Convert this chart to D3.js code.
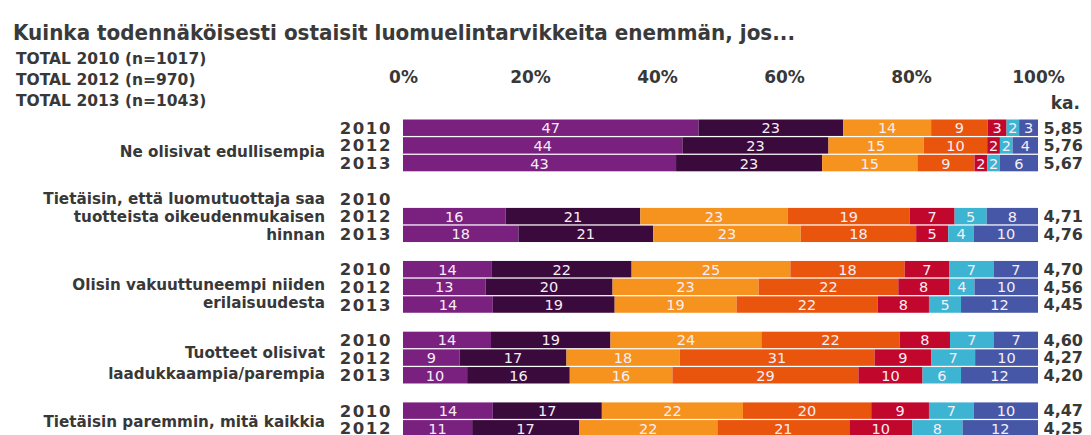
<!DOCTYPE html>
<html><head><meta charset="utf-8">
<script src="https://cdn.jsdelivr.net/npm/d3@7"></script>
<style>html,body{margin:0;padding:0;background:#fff;}svg{display:block;}</style>
</head><body>
<svg id="chart" width="1091" height="435"></svg>
<script>
// ---- data ----
const title = "Kuinka todennäköisesti ostaisit luomuelintarvikkeita enemmän, jos...";
const subtitles = ["TOTAL 2010 (n=1017)", "TOTAL 2012 (n=970)", "TOTAL 2013 (n=1043)"];
const tickValues = [0, 0.2, 0.4, 0.6, 0.8, 1];
const tickLabels = ["0%", "20%", "40%", "60%", "80%", "100%"];
const meanHeader = "ka.";
const years = ["2010", "2012", "2013"];
const categories = [
  ["Ne olisivat edullisempia"],
  ["Tietäisin, että luomutuottaja saa", "tuotteista oikeudenmukaisen", "hinnan"],
  ["Olisin vakuuttuneempi niiden", "erilaisuudesta"],
  ["Tuotteet olisivat", "laadukkaampia/parempia"],
  ["Tietäisin paremmin, mitä kaikkia"]
];
const categoryYears = [
  ["2010", "2012", "2013"],
  ["2010", "2012", "2013"],
  ["2010", "2012", "2013"],
  ["2010", "2012", "2013"],
  ["2010", "2012"]
];
// values per category per year (null = no data), 7 answer classes
const values1 = [[47,23,14,9,3,2,3],[44,23,15,10,2,2,4],[43,23,15,9,2,2,6]];
const values2 = [null,[16,21,23,19,7,5,8],[18,21,23,18,5,4,10]];
const values3 = [[14,22,25,18,7,7,7],[13,20,23,22,8,4,10],[14,19,19,22,8,5,12]];
const values4 = [[14,19,24,22,8,7,7],[9,17,18,31,9,7,10],[10,16,16,29,10,6,12]];
const values5 = [[14,17,22,20,9,7,10],[11,17,22,21,10,8,12]];
const means1 = ["5,85","5,76","5,67"];
const means2 = [null,"4,71","4,76"];
const means3 = ["4,70","4,56","4,45"];
const means4 = ["4,60","4,27","4,20"];
const means5 = ["4,47","4,25"];
const seriesKeys = ["s1","s2","s3","s4","s5","s6","s7"];
const seriesColors = ["#7a2180","#3b0a3d","#f6921e","#e9550d","#c1072c","#3cb4d2","#4657a8"];

const allValues = [values1, values2, values3, values4, values5];
const allMeans = [means1, means2, means3, means4, means5];

// ---- layout ----
const svg = d3.select("#chart");
const textColor = "#383838";
const x = d3.scaleLinear().domain([0, 1]).range([403, 1038]);

// row keys: 3 year rows + 1 gap row per category
const rowKeys = [];
categories.forEach((c, g) => { years.forEach(y => rowKeys.push(g + "|" + y)); rowKeys.push(g + "|gap"); });
const y = d3.scaleBand().domain(rowKeys).range([119.5, 119.5 + 20 * 17.62]).paddingInner(0.07).paddingOuter(0);

// build rows
const rows = [];
categories.forEach((c, g) => {
  categoryYears[g].forEach((yr, i) => {
    const vals = allValues[g][i];
    const row = { key: g + "|" + yr, year: yr, mean: allMeans[g][i], has: !!vals };
    seriesKeys.forEach((k, j) => row[k] = vals ? vals[j] : 0);
    rows.push(row);
  });
});
const dataRows = rows.filter(r => r.has);
const stacked = d3.stack().keys(seriesKeys).offset(d3.stackOffsetExpand)(dataRows);

// title
svg.append("text").attr("x", 13).attr("y", 40)
  .attr("font-family", "DejaVu Sans").attr("font-weight", "bold").attr("font-size", 21)
  .attr("fill", "#3a3a3a").attr("textLength", 782).attr("lengthAdjust", "spacingAndGlyphs")
  .text(title);

// subtitles
const subY = [64, 85, 106];
svg.selectAll("text.sub").data(subtitles).join("text").attr("class", "sub")
  .attr("x", 16).attr("y", (d, i) => subY[i])
  .attr("font-family", "DejaVu Sans").attr("font-weight", "bold").attr("font-size", 15.5)
  .attr("fill", textColor).text(d => d);

// axis
const axis = svg.append("g").attr("transform", "translate(0,83)")
  .call(d3.axisTop(x).tickValues(tickValues).tickFormat((d, i) => tickLabels[i]).tickSize(0).tickPadding(0));
axis.select(".domain").remove();
axis.selectAll("text").attr("font-family", "DejaVu Sans").attr("font-weight", "bold")
  .attr("font-size", 17).attr("fill", textColor).attr("dy", null);

svg.append("text").attr("x", 1080).attr("y", 109).attr("text-anchor", "end")
  .attr("font-family", "DejaVu Sans").attr("font-weight", "bold").attr("font-size", 17)
  .attr("fill", textColor).text(meanHeader);

// bars
const layers = svg.append("g").selectAll("g").data(stacked).join("g")
  .attr("fill", (d, i) => seriesColors[i]);
layers.selectAll("rect").data(d => d).join("rect")
  .attr("x", d => x(d[0])).attr("width", d => x(d[1]) - x(d[0]))
  .attr("y", d => y(d.data.key)).attr("height", y.bandwidth());

// value labels
const labelG = svg.append("g");
stacked.forEach(layer => {
  labelG.selectAll(null).data(layer).join("text")
    .attr("x", d => (x(d[0]) + x(d[1])) / 2)
    .attr("y", d => y(d.data.key) + y.bandwidth() / 2 + 5.5)
    .attr("text-anchor", "middle")
    .attr("font-family", "DejaVu Sans").attr("font-size", 14.5)
    .attr("fill", "#f6eef6")
    .text(d => d.data[layer.key]);
});

// year labels
svg.append("g").selectAll("text").data(rows).join("text")
  .attr("x", 392).attr("y", d => y(d.key) + 14.3).attr("text-anchor", "end")
  .attr("font-family", "DejaVu Sans").attr("font-weight", "bold").attr("font-size", 16.5)
  .attr("letter-spacing", 1.6).attr("fill", textColor).text(d => d.year);

// means
svg.append("g").selectAll("text").data(dataRows).join("text")
  .attr("x", 1083).attr("y", d => y(d.key) + 14).attr("text-anchor", "end")
  .attr("font-family", "DejaVu Sans").attr("font-weight", "bold").attr("font-size", 16)
  .attr("fill", textColor).text(d => d.mean);

// category labels
const labelLayout = [
  { lineH: 18, shift: 6 },
  { lineH: 18, shift: 0 },
  { lineH: 18, shift: 7 },
  { lineH: 21, shift: 5 },
  { lineH: 18, shift: -7 }
];
categories.forEach((lines, g) => {
  const mid = y(g + "|2012") + y.bandwidth() / 2;
  const n = lines.length;
  svg.append("g").selectAll("text").data(lines).join("text")
    .attr("x", 325).attr("text-anchor", "end")
    .attr("y", (d, i) => mid + labelLayout[g].shift + (i - (n - 1) / 2) * labelLayout[g].lineH + 5.5)
    .attr("font-family", "DejaVu Sans").attr("font-weight", "bold").attr("font-size", 15.2)
    .attr("fill", textColor).text(d => d);
});
</script>
</body></html>
